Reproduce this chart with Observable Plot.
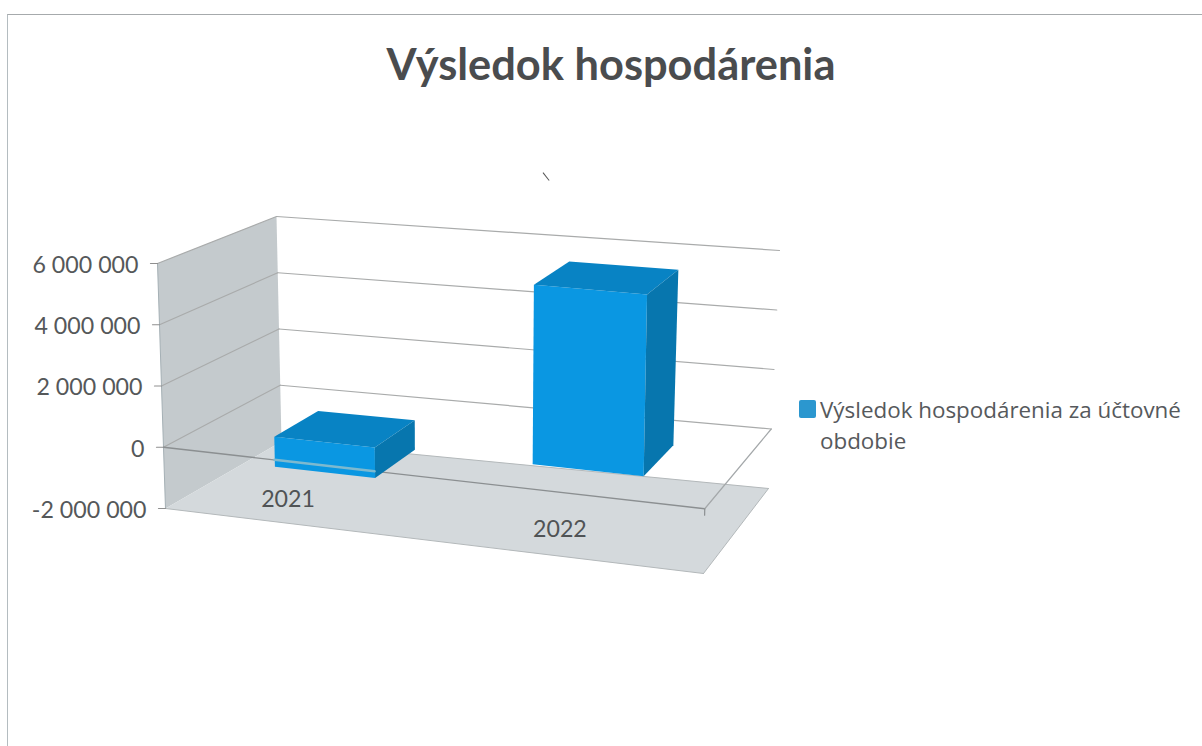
<!DOCTYPE html>
<html lang="sk">
<head>
<meta charset="utf-8">
<script src="https://cdn.jsdelivr.net/npm/d3@7"></script>
<script src="https://cdn.jsdelivr.net/npm/@observablehq/plot@0.6"></script>
<style>
  html, body { margin: 0; padding: 0; background: #fff; }
  #page { position: relative; width: 1202px; height: 746px; overflow: hidden; }
  #page svg { position: absolute; left: 0; top: 0; }
  #frame { position: absolute; left: 7px; top: 14px; right: -4px; bottom: -4px;
           border-top: 1.5px solid #a6aaac; border-left: 1px solid #b4bcc0; }
  #speck { position: absolute; left: 541px; top: 176px; width: 10px; height: 1.2px;
           background: #555; transform: rotate(52deg); }
  h1 { position: absolute; left: 0; top: 38px; width: 1222px; margin: 0; text-align: center;
       font: 700 43.4px/50px Lato, sans-serif; color: #4a4c4e; }
  #legend { position: absolute; left: 820px; top: 394px; width: 375px;
            font: 400 22.4px/31px "Open Sans", sans-serif; color: #56595c; }
  #legend i { position: absolute; left: -21px; top: 6px; width: 17px; height: 18px;
              border-radius: 2px; background: #2b97cf; }
</style>
</head>
<body>
<div id="page">
  <div id="frame"></div>
  <div id="speck"></div>
  <h1>Výsledok hospodárenia</h1>
  <div id="legend"><i></i>Výsledok hospodárenia za účtovné obdobie</div>
</div>
<script>
// Data
const years = ["2021", "2022"];
const results = [-1000000, 5800000];
const axisTicks = [-2000000, 0, 2000000, 4000000, 6000000];
const gridTicks = [0, 2000000, 4000000, 6000000];

// 3D box of the chart: screen position of each vertical edge at the value-axis ends
const vMin = -2000000, vMax = 6000000;
const box = {
  fl: [[165, 508], [157, 263]],
  fr: [[703, 573], [708, 314]],
  bl: [[281, 441], [276, 216]],
  br: [[768, 488], [779, 250]]
};
const barSpan = [[0.144, 0.335], [0.635, 0.846]];
const barDepth = [0.3, 0.7];
const labelSpot = [[0.172, 0.28], [0.688, 0.3]];

const lerp = (a, b, t) => a + (b - a) * t;
function project(u, d, v) {
  const t = (v - vMin) / (vMax - vMin);
  const edge = (e, i) => lerp(e[0][i], e[1][i], t);
  const at = i => lerp(lerp(edge(box.fl, i), edge(box.fr, i), u), lerp(edge(box.bl, i), edge(box.br, i), u), d);
  return {px: at(0), py: at(1)};
}
const poly = (id, fill, pts) => pts.map(([u, d, v]) => ({id, fill, ...project(u, d, v)}));
const seg = (id, a, b) => [a, b].map(([u, d, v]) => ({id, ...project(u, d, v)}));

// Chart walls and floor
const walls = [
  ...poly("left", "#c4cacd", [[0, 0, vMin], [0, 0, vMax], [0, 1, vMax], [0, 1, vMin]]),
  ...poly("floor", "#d4d9dc", [[0, 0, vMin], [1, 0, vMin], [1, 1, vMin], [0, 1, vMin]])
];
// Gridlines
const grid = gridTicks.flatMap(v => [
  ...seg("b" + v, [0, 1, v], [1, 1, v]),
  ...seg("l" + v, [0, 0, v], [0, 1, v])
]);
const sideWall = seg("s", [0, 0, vMin], [0, 0, vMax]);
// Base plane lines at zero
const zeroFront = seg("zf", [0, 0, 0], [1, 0, 0]);
const zeroSide = seg("zs", [1, 0, 0], [1, 1, 0]);
const cornerTick = seg("ct", [1, 0, 0], [1, 0, -200000]);
const floorEdges = [
  ...seg("fe1", [0, 0, vMin], [1, 0, vMin]),
  ...seg("fe2", [1, 0, vMin], [1, 1, vMin]),
  ...seg("fe3", [0, 1, vMin], [1, 1, vMin])
];
// Bars: three visible faces per category
const [d0, d1] = barDepth;
const bars = years.flatMap((y, i) => {
  const [u0, u1] = barSpan[i];
  const top = Math.max(0, results[i]), bot = Math.min(0, results[i]);
  return [
    ...poly(y + "front", "#0a97e2", [[u0, d0, bot], [u1, d0, bot], [u1, d0, top], [u0, d0, top]]),
    ...poly(y + "top", "#0883c4", [[u0, d0, top], [u1, d0, top], [u1, d1, top], [u0, d1, top]]),
    ...poly(y + "side", "#0776ae", [[u1, d0, bot], [u1, d1, bot], [u1, d1, top], [u1, d0, top]])
  ];
});
const barStripe = seg("st", [0.205, 0, 0], [0.39, 0, 0]);

const axisLabels = axisTicks.map(v => ({
  text: d3.format(",")(v).replace(/,/g, " ").replace("−", "-"),
  ...project(0, 0, v)
}));
const tickMarks = axisTicks.flatMap(v => {
  const p = project(0, 0, v);
  return [{id: v, px: p.px, py: p.py}, {id: v, px: p.px - 7, py: p.py}];
});
const yearLabels = years.map((y, i) => ({
  text: y,
  ...project(labelSpot[i][0], labelSpot[i][1], vMin)
}));

const xy = {x: "px", y: "py"};
const chart = Plot.plot({
  width: 1202, height: 746, margin: 0,
  style: {background: "transparent"},
  x: {domain: [0, 1202], range: [0, 1202], axis: null},
  y: {domain: [0, 746], range: [0, 746], axis: null},
  marks: [
    Plot.line(walls, {...xy, z: "id", fill: "fill", stroke: "none", curve: "linear-closed"}),
    Plot.line(floorEdges, {...xy, z: "id", stroke: "#b3b8ba", strokeWidth: 1}),
    Plot.line(grid, {...xy, z: "id", stroke: "#a9abab", strokeWidth: 1.2}),
    Plot.line(sideWall, {...xy, stroke: "#a5b0b5", strokeWidth: 1}),
    Plot.line(tickMarks, {...xy, z: "id", stroke: "#8f8f8f", strokeWidth: 1.2}),
    Plot.line(zeroFront, {...xy, stroke: "#8b8f91", strokeWidth: 1.3}),
    Plot.line(zeroSide, {...xy, stroke: "#a4a8aa", strokeWidth: 1.2}),
    Plot.line(cornerTick, {...xy, stroke: "#8b8f91", strokeWidth: 1.2}),
    Plot.line(bars, {...xy, z: "id", fill: "fill", stroke: "none", curve: "linear-closed"}),
    Plot.line(barStripe, {...xy, stroke: "#7db9cf", strokeWidth: 2.5}),
    Plot.text(axisLabels, {...xy, text: "text", textAnchor: "end", dx: -19, dy: 2, fontSize: 23.2,
      fontFamily: "Lato, sans-serif", fill: "#55585a"}),
    Plot.text(yearLabels, {...xy, text: "text", fontSize: 23.2,
      fontFamily: "Lato, sans-serif", fill: "#505355"})
  ]
});
document.getElementById("page").appendChild(chart);
</script>
</body>
</html>
